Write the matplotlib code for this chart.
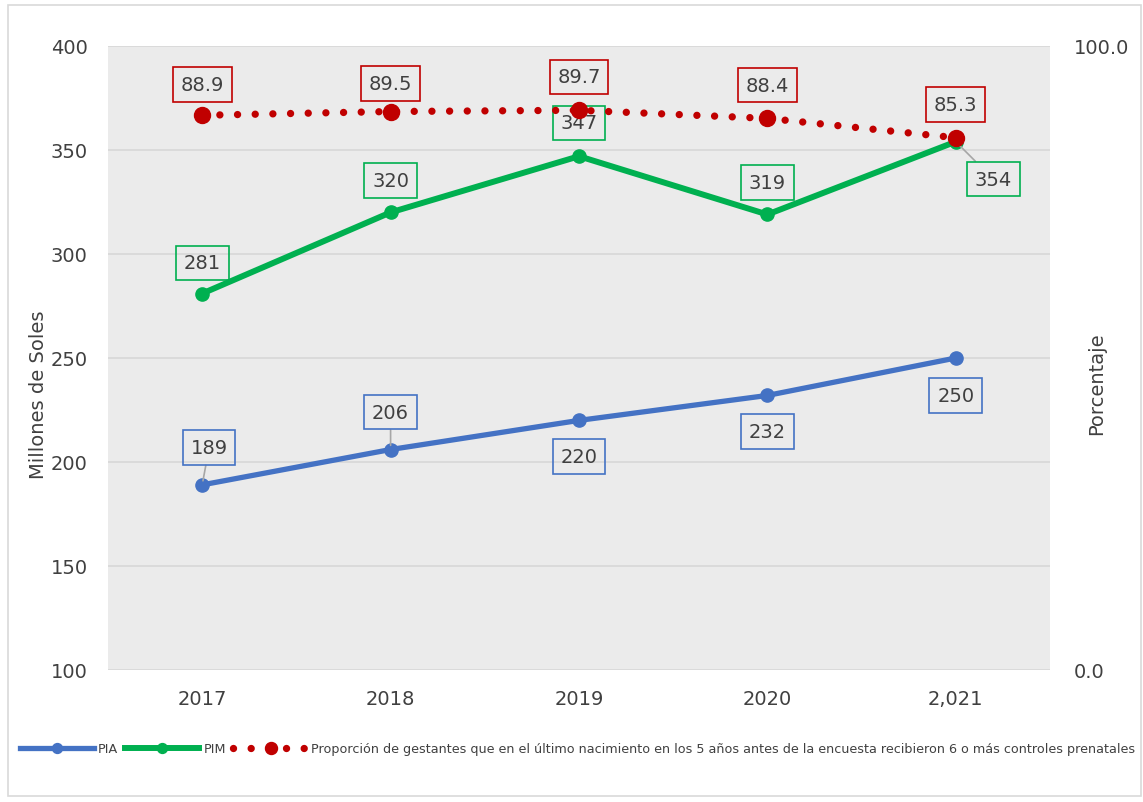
import matplotlib.pyplot as plt
from matplotlib.patches import Rectangle

# Data
years = ["2017", "2018", "2019", "2020", "2,021"]
pia = [189, 206, 220, 232, 250]
pim = [281, 320, 347, 319, 354]
prop = [88.9, 89.5, 89.7, 88.4, 85.3]
prop_labels = ["88.9", "89.5", "89.7", "88.4", "85.3"]

# label offsets in points (dx, dy) and whether a leader line is drawn
pia_off = [(5, 27), (0, 27), (0, -26), (0, -26), (0, -27)]
pia_lead = [True, True, False, False, False]
pim_off = [(0, 22), (0, 23), (0, 24), (0, 23), (27, -27)]
pim_lead = [False, False, False, False, True]
prop_off = [(0, 22), (0, 20), (0, 24), (0, 24), (0, 24)]

c_blue = "#4472C4"
c_green = "#00B050"
c_red = "#C00000"
c_text = "#404040"
bg = "#EBEBEB"

plt.rcParams['font.family'] = ['DejaVu Sans']

fig = plt.figure(figsize=(11.43, 8.03), dpi=100)
fig.patches.append(Rectangle((8 / 1143, 6 / 803), 1133 / 1143, 791 / 803, transform=fig.transFigure,
                             fill=False, edgecolor="#D9D9D9", linewidth=1.2))

ax = fig.add_axes([108 / 1143, 1 - 671 / 803, 942 / 1143, 624 / 803])
ax.set_facecolor(bg)
x = list(range(len(years)))

ax.plot(x, pia, color=c_blue, linewidth=3.8, marker="o", markersize=9.5, label="PIA", zorder=3)
ax.plot(x, pim, color=c_green, linewidth=4.3, marker="o", markersize=9.5, label="PIM", zorder=3)

ax.set_xlim(-0.5, len(years) - 0.5)
ax.set_ylim(100, 400)
ax.set_yticks(range(100, 401, 50))
ax.set_xticks(x)
ax.set_xticklabels(years)
ax.grid(axis="y", color="#D9D9D9", linewidth=1.3)
ax.set_axisbelow(True)
for s in ax.spines.values():
    s.set_visible(False)
ax.tick_params(axis="both", length=0, labelsize=14, labelcolor=c_text)
ax.tick_params(axis="y", pad=14.5)
ax.tick_params(axis="x", pad=14)
ax.set_ylabel("Millones de Soles", fontsize=14, color=c_text)
ax.yaxis.set_label_coords(-0.064, 0.442)


def box_labels(axis, xs, ys, texts, offs, leads, color):
    for xi, yi, t, (dx, dy), lead in zip(xs, ys, texts, offs, leads):
        axis.annotate(t, xy=(xi, yi), xytext=(dx, dy), textcoords="offset points",
                      ha="center", va="center", fontsize=14, color=c_text, zorder=5,
                      bbox=dict(boxstyle="square,pad=0.4", facecolor="none", edgecolor=color, linewidth=1.2),
                      arrowprops=dict(arrowstyle="-", color="#A6A6A6", linewidth=1.2,
                                      shrinkA=0, shrinkB=3) if lead else None)


box_labels(ax, x, pia, [str(v) for v in pia], pia_off, pia_lead, c_blue)
box_labels(ax, x, pim, [str(v) for v in pim], pim_off, pim_lead, c_green)

ax2 = ax.twinx()
ax2.patch.set_visible(False)
ax2.plot(x, prop, color=c_red, linewidth=5.3, linestyle=(0, (0.001, 2.4)), dash_capstyle="round",
         marker="o", markersize=11.5,
         label="Proporción de gestantes que en el último nacimiento en los 5 años antes de la encuesta recibieron 6 o más controles prenatales")
ax2.set_ylim(0, 100)
ax2.set_yticks([0, 100])
ax2.set_yticklabels(["0.0", "100.0"])
for s in ax2.spines.values():
    s.set_visible(False)
ax2.tick_params(axis="y", length=0, labelsize=14, labelcolor=c_text, pad=17)
ax2.set_ylabel("Porcentaje", fontsize=14, color=c_text)
ax2.yaxis.set_label_coords(1.039, 0.46)
box_labels(ax2, x, prop, prop_labels, prop_off, [False] * 5, c_red)

h1, l1 = ax.get_legend_handles_labels()
h2, l2 = ax2.get_legend_handles_labels()
fig.legend(h1 + h2, l1 + l2, loc="center left", bbox_to_anchor=(8 / 1143, 1 - 750 / 803),
           ncol=3, frameon=False, fontsize=9.2, handlelength=5.8, handletextpad=0.3,
           columnspacing=0.6, labelcolor=c_text, markerscale=0.75)

fig.savefig("out.png", dpi=100)
